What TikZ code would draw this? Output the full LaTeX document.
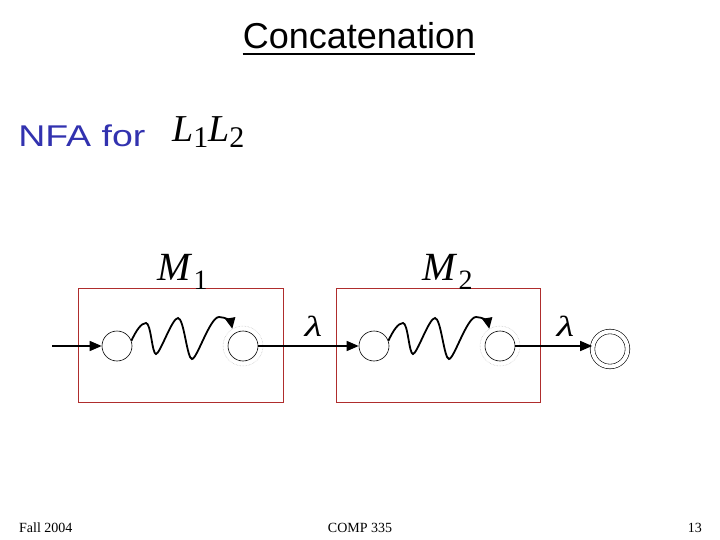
\documentclass[tikz,border=0pt]{standalone}
\usepackage{fontspec}
\setmainfont{Liberation Serif}
\newfontfamily\comicfont{Liberation Sans}
\usetikzlibrary{arrows.meta,calc}
\definecolor{boxred}{RGB}{175,45,45}
\definecolor{nfablue}{RGB}{50,50,175}
\begin{document}
\begin{tikzpicture}[x=1pt,y=-1pt,
  state/.style={circle,draw,inner sep=0pt,minimum size=30pt,line width=0.6pt},
  ghost/.style={circle,draw=gray!55,densely dotted,inner sep=0pt,minimum size=40pt,line width=0.5pt},
  final/.style={circle,draw,double,double distance=4pt,inner sep=0pt,minimum size=35pt,line width=0.6pt},
  machine/.style={draw=boxred,line width=0.8pt,inner sep=0pt,minimum width=205pt,minimum height=114pt},
  trans/.style={line width=1.4pt,-{Triangle[length=12pt,width=10pt]}},
  wave/.style={line width=1.8pt,-{Triangle[length=11pt,width=10pt]}},
  lam/.style={font=\fontsize{29}{30}\selectfont\itshape,inner sep=0pt,xscale=1.4},
  mlab/.style={font=\fontsize{40}{44}\selectfont,inner sep=0pt,anchor=base west},
  foot/.style={font=\fontsize{14}{16}\selectfont,inner sep=0pt,anchor=base}
]
\useasboundingbox (0,0) rectangle (720,540);

% title
\node[font=\comicfont\fontsize{36}{40}\selectfont,inner sep=0pt,anchor=base] (title) at (359,49) {Concatenation};
\draw[line width=2.8pt] ($(title.base west)+(0,5)$) -- ($(title.base east)+(0,5)$);

% NFA for L1L2
\node[font=\comicfont\fontsize{30}{34}\selectfont,text=nfablue,inner sep=0pt,anchor=base west,xscale=1.25] (nfa) at (18,147) {NFA for};
\node[font=\fontsize{38}{42}\selectfont,inner sep=0pt,anchor=base west] (lang) at (172,142)
  {\itshape L\raisebox{-6pt}{\upshape\fontsize{30}{30}\selectfont 1}L\raisebox{-6pt}{\upshape\fontsize{30}{30}\selectfont 2}};

% machine boxes
\node[machine] (box1) at (180.5,345) {};
\node[machine,minimum width=204pt] (box2) at (438,345) {};
\node[mlab] (m1) at (157,280) {\itshape M\hspace{3pt}\raisebox{-9pt}{\upshape\fontsize{28}{30}\selectfont 1}};
\node[mlab] (m2) at (422,280) {\itshape M\hspace{3pt}\raisebox{-9pt}{\upshape\fontsize{28}{30}\selectfont 2}};

% states
\node[state] (s1) at (117,346) {};
\node[ghost] (g2) at (243,346) {};
\node[state] (s2) at (243,346) {};
\node[state] (s3) at (374,346) {};
\node[ghost] (g4) at (500,346) {};
\node[state] (s4) at (500,346) {};
\node[final] (f) at (610,349) {};
\coordinate (in) at (52,346);

% transitions
\draw[trans] (in) -- (s1);
\draw[trans] (s2) -- node[lam,pos=0.55,above=9pt] (l1) {λ} (s3);
\draw[trans] (s4.east) -- node[lam,pos=0.65,above=9pt] (l2) {λ} (s4.east -| f.west);

% wavy paths
\draw[wave] (s1.20) .. controls (136,331) and (141,323) .. (146,323)
  .. controls (151,323) and (152,354) .. (156,354)
  .. controls (160,354) and (172,318) .. (178,318)
  .. controls (184,318) and (187,359) .. (192,359)
  .. controls (197,359) and (210,317) .. (219,317)
  .. controls (226,317) and (231,322) .. (g2.122);
\draw[wave] (s3.20) .. controls (393,331) and (398,323) .. (403,323)
  .. controls (408,323) and (409,354) .. (413,354)
  .. controls (417,354) and (429,318) .. (435,318)
  .. controls (441,318) and (444,359) .. (449,359)
  .. controls (454,359) and (467,317) .. (476,317)
  .. controls (483,317) and (488,322) .. (g4.122);

% footer
\node[foot,anchor=base west] (fl) at (19,532) {Fall 2004};
\node[foot] (fc) at (360,532) {COMP 335};
\node[foot,anchor=base east] (fr) at (702,532) {13};
\end{tikzpicture}
\end{document}
